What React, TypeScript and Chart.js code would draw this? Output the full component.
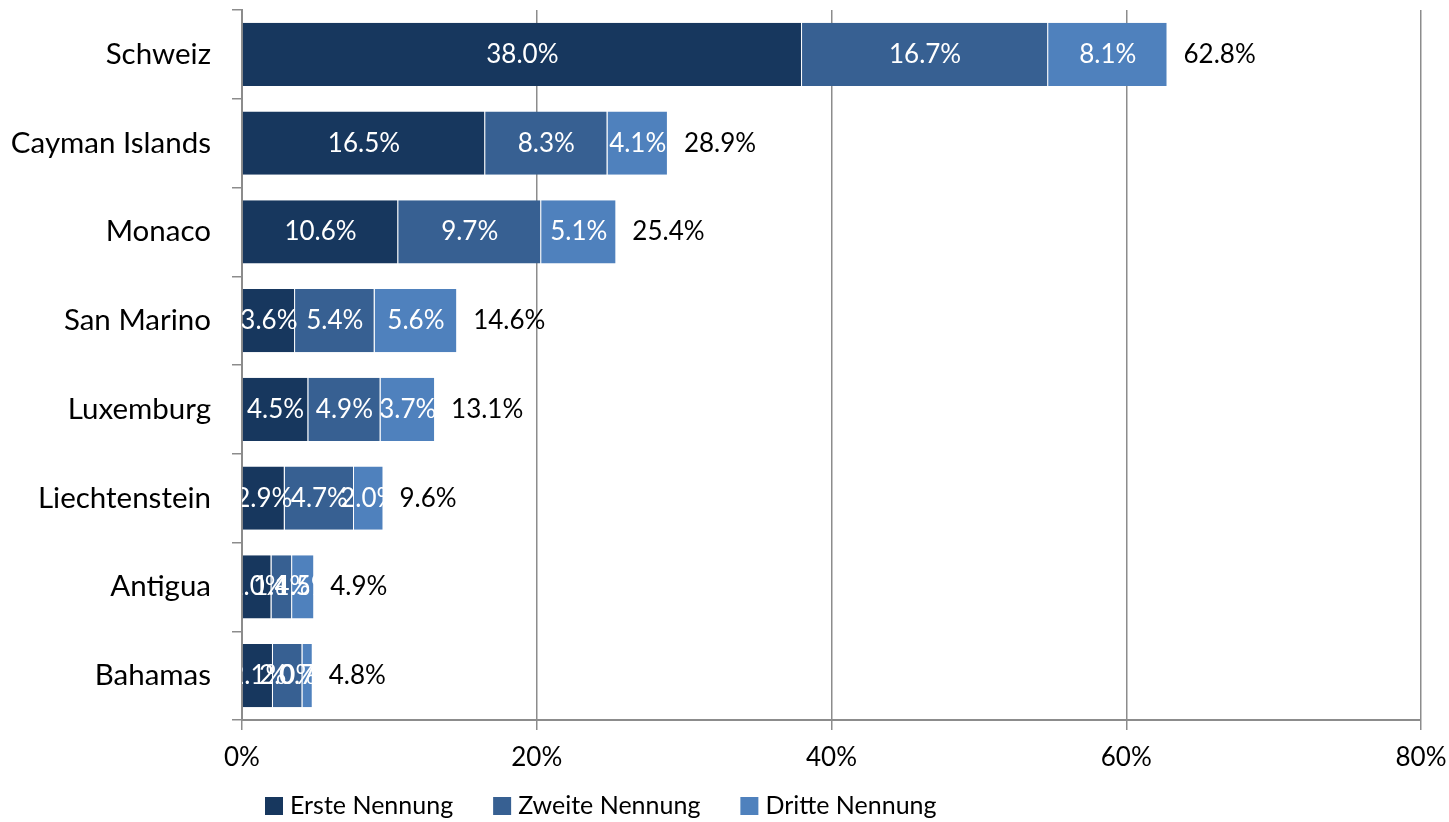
import React, { useEffect, useRef } from "react";
import { Chart, registerables } from "chart.js";

Chart.register(...registerables);

const countries = [
  "Schweiz",
  "Cayman Islands",
  "Monaco",
  "San Marino",
  "Luxemburg",
  "Liechtenstein",
  "Antigua",
  "Bahamas",
];
const ersteNennung = [38.0, 16.5, 10.6, 3.6, 4.5, 2.9, 2.0, 2.1];
const zweiteNennung = [16.7, 8.3, 9.7, 5.4, 4.9, 4.7, 1.4, 2.0];
const dritteNennung = [8.1, 4.1, 5.1, 5.6, 3.7, 2.0, 1.5, 0.7];
const seriesNames = ["Erste Nennung", "Zweite Nennung", "Dritte Nennung"];
const seriesColors = ["#17375E", "#376092", "#4F81BD"];
const xTicks = [0, 20, 40, 60, 80];

const FONT = "Lato, 'Open Sans', sans-serif";
const AXIS_GRAY = "#8c8c8c";

const fmt = (v: number) => `${v.toFixed(1)}%`;

// Writes each segment's value inside it and the stacked total after the bar,
// then paints a compact legend beneath the x axis.
const labelPlugin = {
  id: "segmentLabels",
  afterDatasetsDraw(chart: any) {
    const { ctx, chartArea } = chart;
    const datasets = chart.data.datasets;

    ctx.save();
    ctx.beginPath();
    ctx.rect(chartArea.left, chartArea.top, chartArea.right - chartArea.left, chartArea.bottom - chartArea.top);
    ctx.clip();
    ctx.font = `26px ${FONT}`;
    ctx.fillStyle = "#ffffff";
    ctx.textAlign = "center";
    ctx.textBaseline = "middle";
    datasets.forEach((ds: any, di: number) => {
      const meta = chart.getDatasetMeta(di);
      meta.data.forEach((bar: any, i: number) => {
        const { x, y, base } = bar.getProps(["x", "y", "base"], true);
        ctx.fillText(fmt(ds.data[i]), (x + base) / 2, y);
      });
    });
    ctx.restore();

    ctx.save();
    ctx.font = `26px ${FONT}`;
    ctx.fillStyle = "#000000";
    ctx.textAlign = "left";
    ctx.textBaseline = "middle";
    const lastMeta = chart.getDatasetMeta(datasets.length - 1);
    lastMeta.data.forEach((bar: any, i: number) => {
      const { x, y } = bar.getProps(["x", "y"], true);
      let total = 0;
      datasets.forEach((ds: any) => (total += ds.data[i]));
      ctx.fillText(fmt(total), x + 16, y);
    });
    ctx.restore();
  },
  afterDraw(chart: any) {
    const { ctx } = chart;
    ctx.save();
    ctx.font = `25px ${FONT}`;
    ctx.textBaseline = "middle";
    ctx.textAlign = "left";
    let cx = 265;
    const cy = 806;
    chart.data.datasets.forEach((ds: any) => {
      ctx.fillStyle = ds.backgroundColor;
      ctx.fillRect(cx, cy - 9, 18, 18);
      ctx.fillStyle = "#000000";
      ctx.fillText(ds.label, cx + 25, cy);
      cx += 25 + ctx.measureText(ds.label).width + 40;
    });
    ctx.restore();
  },
};

export default function App() {
  const canvasRef = useRef<HTMLCanvasElement | null>(null);

  useEffect(() => {
    if (!canvasRef.current) return;
    const seriesData = [ersteNennung, zweiteNennung, dritteNennung];
    const chart = new Chart(canvasRef.current, {
      type: "bar",
      data: {
        labels: countries,
        datasets: seriesData.map((d, i) => ({
          label: seriesNames[i],
          data: d,
          backgroundColor: seriesColors[i],
          borderColor: "rgba(255,255,255,0.55)",
          borderWidth: { right: 1 },
          borderSkipped: false,
          categoryPercentage: 1,
          barPercentage: 0.71,
        })),
      },
      options: {
        indexAxis: "y",
        responsive: false,
        animation: false,
        layout: { padding: { top: 10, right: 28, bottom: 34, left: 0 } },
        plugins: {
          legend: { display: false },
          tooltip: { enabled: false },
        },
        scales: {
          x: {
            stacked: true,
            min: 0,
            max: 80,
            afterBuildTicks: (scale: any) => {
              scale.ticks = xTicks.map((v) => ({ value: v }));
            },
            afterFit: (scale: any) => {
              scale.height = 68;
              scale.paddingLeft = 0;
              scale.paddingRight = 0;
            },
            ticks: {
              padding: 12,
              color: "#000000",
              font: { family: FONT, size: 26 },
              callback: (v: any) => `${v}%`,
              maxRotation: 0,
            },
            grid: {
              color: AXIS_GRAY,
              lineWidth: 1.5,
              tickLength: 10,
              drawTicks: true,
            },
            border: { display: true, color: AXIS_GRAY, width: 2 },
          },
          y: {
            stacked: true,
            afterFit: (scale: any) => {
              scale.width = 242;
              scale.paddingTop = 0;
              scale.paddingBottom = 0;
            },
            ticks: {
              padding: 21,
              color: "#000000",
              font: { family: FONT, size: 29.5 },
            },
            grid: {
              offset: true,
              drawOnChartArea: false,
              drawTicks: true,
              tickLength: 10,
              color: AXIS_GRAY,
              lineWidth: 1.5,
            },
            border: { display: true, color: AXIS_GRAY, width: 2 },
          },
        },
      },
      plugins: [labelPlugin],
    });
    return () => chart.destroy();
  }, []);

  return (
    <div style={{ position: "absolute", left: 0, top: 0, width: 1449, height: 822, background: "#ffffff" }}>
      <canvas ref={canvasRef} width={1449} height={822} />
    </div>
  );
}
